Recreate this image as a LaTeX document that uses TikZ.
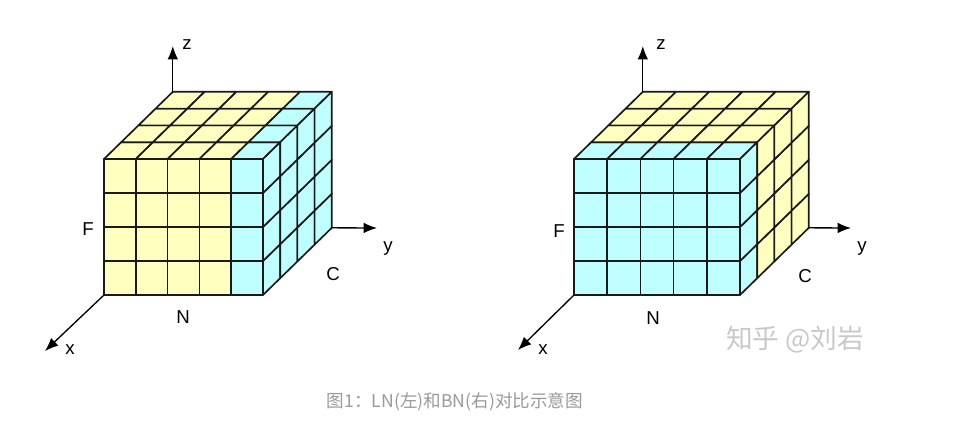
\documentclass[tikz,border=0pt]{standalone}
\usepackage{fontspec}
\setmainfont{Liberation Sans}
\newfontfamily\cjk{Noto Sans CJK SC}
\usetikzlibrary{arrows.meta}
\definecolor{cy}{HTML}{C0FFFF}
\definecolor{yl}{HTML}{FFFFC0}
\definecolor{gridc}{HTML}{1A1A1A}
\definecolor{capc}{HTML}{999999}
\definecolor{wmc}{HTML}{C8C8C8}
\tikzset{
  cell/.style={draw=gridc, line width=1.25pt, line join=round},
  axis/.style={draw=black, line width=1pt, -{Latex[length=10pt,width=8pt]}},
  lbl/.style={font=\fontsize{14}{15}\selectfont, text=black, inner sep=0pt},
}
\begin{document}
\begin{tikzpicture}[x=0.75pt,y=-0.75pt]
\useasboundingbox (0,0) rectangle (964,433);
\def\dx{17.2}\def\dy{-16.8}\def\dyn{16.8}\def\h{34}\def\yb{295}\def\yt{159}

% ---------- left cube (LN) ----------
\def\X{104}\def\w{31.8}
\foreach \i in {0,...,4} \foreach \j in {0,...,3} {
  \ifnum\i=4 \def\c{cy}\else\def\c{yl}\fi
  \path[cell, fill=\c] (\X+\i*\w, \yb-\j*\h) -- ++(\w,0) -- ++(0,-\h) -- ++(-\w,0) -- cycle;
}
\foreach \i in {0,...,4} \foreach \k in {0,...,3} {
  \ifnum\i=4 \def\c{cy}\else\def\c{yl}\fi
  \path[cell, fill=\c] (\X+\i*\w+\k*\dx, \yt+\k*\dy) -- ++(\w,0) -- ++(\dx,\dy) -- ++(-\w,0) -- cycle;
}
\foreach \k in {0,...,3} \foreach \j in {0,...,3} {
  \path[cell, fill=cy] (\X+5*\w+\k*\dx, \yb-\j*\h+\k*\dy) -- ++(\dx,\dy) -- ++(0,-\h) -- ++(-\dx,\dyn) -- cycle;
}
\coordinate (L-fbl) at (\X, \yb);
\coordinate (L-btl) at (\X+4*\dx, \yt+4*\dy);
\coordinate (L-bbr) at (\X+5*\w+4*\dx, \yb+4*\dy);
\coordinate (L-xt) at (45,351);
\coordinate (L-yt) at (377,228);
\coordinate (L-zt) at (172.8,46);
\draw[axis] (L-btl) -- (L-zt);
\draw[axis] (L-bbr) -- (L-yt);
\draw[axis] (L-fbl) -- (L-xt);
\node[lbl] (L-z) at (187,45) {z};
\node[lbl] (L-y) at (388,248) {y};
\node[lbl] (L-x) at (70,350) {x};
\node[lbl] (L-F) at (88,229) {F};
\node[lbl] (L-N) at (183,317) {N};
\node[lbl] (L-C) at (333,274) {C};

% ---------- right cube (BN) ----------
\def\X{574}\def\w{33.2}
\foreach \i in {0,...,4} \foreach \j in {0,...,3} {
  \path[cell, fill=cy] (\X+\i*\w, \yb-\j*\h) -- ++(\w,0) -- ++(0,-\h) -- ++(-\w,0) -- cycle;
}
\foreach \i in {0,...,4} \foreach \k in {0,...,3} {
  \ifnum\k=0 \def\c{cy}\else\def\c{yl}\fi
  \path[cell, fill=\c] (\X+\i*\w+\k*\dx, \yt+\k*\dy) -- ++(\w,0) -- ++(\dx,\dy) -- ++(-\w,0) -- cycle;
}
\foreach \k in {0,...,3} \foreach \j in {0,...,3} {
  \ifnum\k=0 \def\c{cy}\else\def\c{yl}\fi
  \path[cell, fill=\c] (\X+5*\w+\k*\dx, \yb-\j*\h+\k*\dy) -- ++(\dx,\dy) -- ++(0,-\h) -- ++(-\dx,\dyn) -- cycle;
}
\coordinate (R-fbl) at (\X, \yb);
\coordinate (R-btl) at (\X+4*\dx, \yt+4*\dy);
\coordinate (R-bbr) at (\X+5*\w+4*\dx, \yb+4*\dy);
\coordinate (R-xt) at (518,350);
\coordinate (R-yt) at (851,228);
\coordinate (R-zt) at (642.8,46);
\draw[axis] (R-btl) -- (R-zt);
\draw[axis] (R-bbr) -- (R-yt);
\draw[axis] (R-fbl) -- (R-xt);
\node[lbl] (R-z) at (661,45) {z};
\node[lbl] (R-y) at (862,248) {y};
\node[lbl] (R-x) at (543,350) {x};
\node[lbl] (R-F) at (559,231) {F};
\node[lbl] (R-N) at (653,318) {N};
\node[lbl] (R-C) at (805,276) {C};

% ---------- texts ----------
\node[font=\cjk\fontsize{20}{21}\selectfont, text=wmc, inner sep=0pt] (wm) at (795,340) {知乎 @刘岩};
\node[font=\cjk\fontsize{13.2}{14}\selectfont, text=capc, inner sep=0pt] (cap) at (455,402) {图1：LN(左)和BN(右)对比示意图};
\end{tikzpicture}
\end{document}
